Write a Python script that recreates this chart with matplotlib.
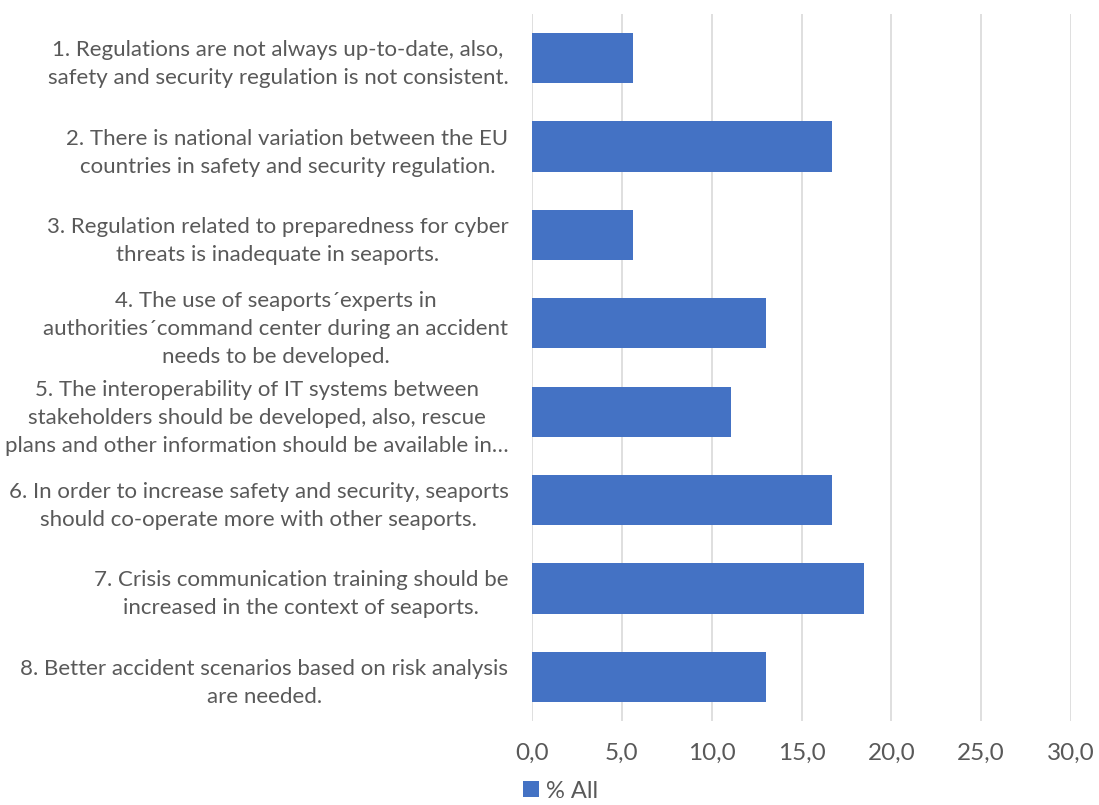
import matplotlib.pyplot as plt

plt.rcParams['font.family'] = ['Lato', 'DejaVu Sans']

# Statements (top to bottom) and share of respondents
labels = [
    "1. Regulations are not always up-to-date, also,\nsafety and security regulation is not consistent.",
    "2. There is national variation between the EU\ncountries in safety and security regulation.",
    "3. Regulation related to preparedness for cyber\nthreats is inadequate in seaports.",
    "4. The use of seaports\u00b4experts in\nauthorities\u00b4command center during an accident\nneeds to be developed.",
    "5. The interoperability of IT systems between\nstakeholders should be developed, also, rescue\nplans and other information should be available in\u2026",
    "6. In order to increase safety and security, seaports\nshould co-operate more with other seaports.",
    "7. Crisis communication training should be\nincreased in the context of seaports.",
    "8. Better accident scenarios based on risk analysis\nare needed.",
]
values = [5.6, 16.7, 5.6, 13.0, 11.1, 16.7, 18.5, 13.0]
xticks = [0, 5, 10, 15, 20, 25, 30]

fig = plt.figure(figsize=(10.99, 8.05), dpi=100)
ax = fig.add_axes([532 / 1099, 1 - 721 / 805, (1071 - 532) / 1099, 707 / 805])

ypos = list(range(len(labels)))
ax.barh(ypos, values, height=0.57, color='#4472C4', label='% All', zorder=3)
ax.set_ylim(len(labels) - 0.5, -0.5)
ax.set_xlim(0, 30)

ax.set_xticks(xticks)
ax.set_xticklabels([f"{t:.1f}".replace('.', ',') for t in xticks], fontsize=17.5, color='#595959')
ax.set_yticks(ypos)
ax.set_yticklabels(labels, fontsize=16, color='#595959', multialignment='center', linespacing=1.5)
ax.tick_params(axis='both', length=0)
ax.tick_params(axis='y', pad=17)
ax.tick_params(axis='x', pad=16)

ax.grid(axis='x', color='#d9d9d9', linewidth=1.2, zorder=0)
for s in ax.spines.values():
    s.set_visible(False)

fig.legend(loc='center left', bbox_to_anchor=(523 / 1099, 1 - 791 / 805), frameon=False,
           fontsize=17, handlelength=0.66, handleheight=0.66, handletextpad=0.3,
           labelcolor='#595959', borderpad=0, borderaxespad=0)

fig.savefig('out.png', dpi=100)
